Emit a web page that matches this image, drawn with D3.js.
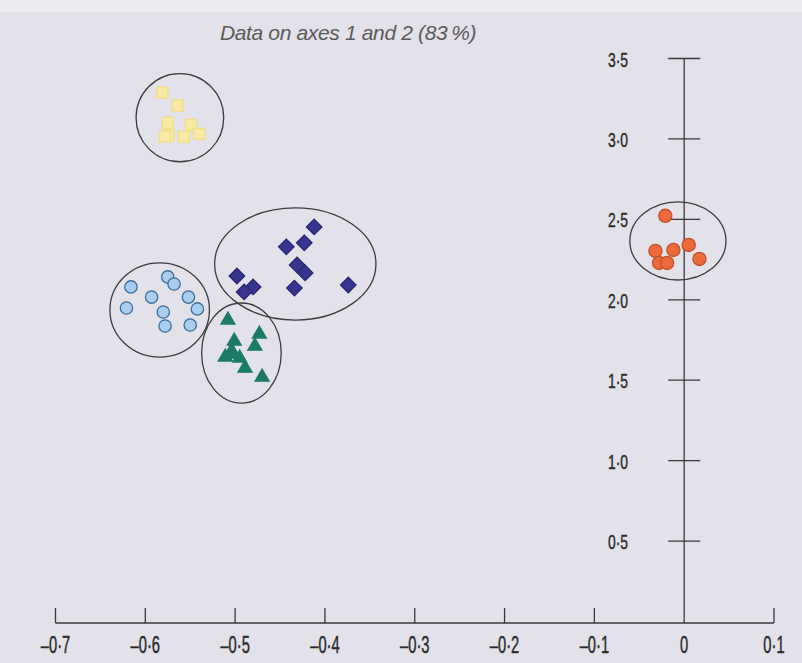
<!DOCTYPE html>
<html>
<head>
<meta charset="utf-8">
<script src="https://cdn.jsdelivr.net/npm/d3@7"></script>
<style>
  body { margin: 0; background: #e3e1e9; }
  svg { display: block; }
  .lbl { font-family: "Liberation Sans", Arial, sans-serif; fill: #2b2b2b; stroke: #2b2b2b; stroke-width: 0.45px; }
</style>
</head>
<body>
<div id="chart"></div>
<script>
// tick values on both axes
var xTicks = [-0.7, -0.6, -0.5, -0.4, -0.3, -0.2, -0.1, 0, 0.1]
var yTicks = [0.5, 1.0, 1.5, 2.0, 2.5, 3.0, 3.5]

// groups of points (axis 1, axis 2)
var yellowSquares = [[-0.581, 3.288], [-0.564, 3.207], [-0.575, 3.101], [-0.549, 3.088],
    [-0.574, 3.026], [-0.578, 3.014], [-0.557, 3.014], [-0.540, 3.032]]
var blueCircles = [[-0.616, 2.080], [-0.575, 2.142], [-0.568, 2.098], [-0.593, 2.017], [-0.552, 2.017],
    [-0.621, 1.949], [-0.580, 1.924], [-0.542, 1.943], [-0.578, 1.837], [-0.550, 1.843]]
var navyDiamonds = [[-0.412, 2.453], [-0.443, 2.329], [-0.423, 2.354], [-0.431, 2.217], [-0.422, 2.167],
    [-0.498, 2.148], [-0.480, 2.080], [-0.490, 2.049], [-0.434, 2.073], [-0.374, 2.092]]
var greenTriangles = [[-0.508, 1.874], [-0.501, 1.743], [-0.473, 1.787], [-0.478, 1.712], [-0.511, 1.644],
    [-0.504, 1.681], [-0.502, 1.663], [-0.495, 1.638], [-0.489, 1.575], [-0.470, 1.519]]
var redCircles = [[-0.021, 2.522], [-0.032, 2.304], [-0.012, 2.310], [0.005, 2.341],
    [0.017, 2.254], [-0.028, 2.229], [-0.019, 2.229]]

// enclosing ellipses: centre x, centre y, half width, half height (data units)
var ellipses = [[-0.5615, 3.132, 0.0488, 0.274], [-0.584, 1.937, 0.0554, 0.293],
    [-0.433, 2.223, 0.0898, 0.349], [-0.493, 1.669, 0.0443, 0.311], [-0.007, 2.366, 0.0535, 0.243]]

var width = 802, height = 663

var svg = d3.select("#chart").append("svg")
    .attr("width", width)
    .attr("height", height)

// slightly lighter strip at the very top
svg.append("rect").attr("width", width).attr("height", 12).attr("fill", "#ecebef")

var x = d3.scaleLinear().domain([-0.7, 0.1]).range([55.5, 774])
var y = d3.scaleLinear().domain([0, 3.5]).range([621.5, 58.5])

function fmt(v) {
    if (v === 0) return "0"
    var s = Math.abs(v).toFixed(1).replace(".", "\u00b7")
    return (v < 0 ? "\u2013" : "") + s
}

// title
svg.append("text")
    .attr("x", 348).attr("y", 40)
    .attr("text-anchor", "middle")
    .style("font-family", "Liberation Sans, Arial, sans-serif")
    .style("font-style", "italic")
    .style("font-size", "21px")
    .style("letter-spacing", "-0.35px")
    .style("fill", "#5a5a5a")
    .text("Data on axes 1 and 2 (83\u2009%)")

// x axis: horizontal line with ticks pointing up
var axisY = 623
var gx = svg.append("g")
gx.append("line")
    .attr("x1", x(-0.7)).attr("x2", x(0.1))
    .attr("y1", axisY).attr("y2", axisY)
    .attr("stroke", "#3a3a3a").attr("stroke-width", 1.3)
gx.selectAll(".xt").data(xTicks.filter(function (d) { return d !== 0 }))
    .enter().append("line")
    .attr("x1", function (d) { return x(d) }).attr("x2", function (d) { return x(d) })
    .attr("y1", axisY).attr("y2", axisY - 15)
    .attr("stroke", "#3a3a3a").attr("stroke-width", 1.3)
gx.selectAll(".xl").data(xTicks)
    .enter().append("text")
    .attr("class", "lbl")
    .attr("transform", function (d) { return "translate(" + x(d) + ",653) scale(0.64,1)" })
    .attr("text-anchor", "middle")
    .style("font-size", "23px")
    .text(fmt)

// y axis: vertical line at x = 0
var gy = svg.append("g")
gy.append("line")
    .attr("x1", x(0)).attr("x2", x(0))
    .attr("y1", y(3.5)).attr("y2", axisY)
    .attr("stroke", "#3a3a3a").attr("stroke-width", 1.3)
gy.selectAll(".yt").data(yTicks)
    .enter().append("line")
    .attr("x1", x(0) - 16).attr("x2", x(0) + 16)
    .attr("y1", function (d) { return y(d) }).attr("y2", function (d) { return y(d) })
    .attr("stroke", "#3a3a3a").attr("stroke-width", 1.3)
gy.selectAll(".yl").data(yTicks)
    .enter().append("text")
    .attr("class", "lbl")
    .attr("transform", function (d) { return "translate(628," + (y(d) + 8) + ") scale(0.66,1)" })
    .attr("text-anchor", "end")
    .style("font-size", "21px")
    .text(fmt)

// ellipses
svg.selectAll(".ell").data(ellipses)
    .enter().append("ellipse")
    .attr("cx", function (d) { return x(d[0]) })
    .attr("cy", function (d) { return y(d[1]) })
    .attr("rx", function (d) { return x(d[0] + d[2]) - x(d[0]) })
    .attr("ry", function (d) { return y(d[1] - d[3]) - y(d[1]) })
    .attr("fill", "none")
    .attr("stroke", "#3d3d3d")
    .attr("stroke-width", 1.3)

// markers
function drawGroup(data, symType, size, fill, stroke, rot) {
    var sym = d3.symbol().type(symType).size(size)
    svg.append("g").selectAll("path").data(data)
        .enter().append("path")
        .attr("d", sym)
        .attr("transform", function (d) {
            return "translate(" + x(d[0]) + "," + y(d[1]) + ")" + (rot ? " rotate(" + rot + ")" : "")
        })
        .attr("fill", fill)
        .attr("stroke", stroke)
        .attr("stroke-width", 1.3)
}

drawGroup(yellowSquares, d3.symbolSquare, 120, "#f8eaa6", "#f3de84", 0)
drawGroup(blueCircles, d3.symbolCircle, 120, "#a8cdee", "#3b6e98", 0)
drawGroup(navyDiamonds, d3.symbolSquare, 120, "#37358f", "#2a2870", 45)
drawGroup(greenTriangles, d3.symbolTriangle, 85, "#1c7b68", "#1c7b68", 0)
drawGroup(redCircles, d3.symbolCircle, 135, "#ec6a3c", "#c4502c", 0)
</script>
</body>
</html>
